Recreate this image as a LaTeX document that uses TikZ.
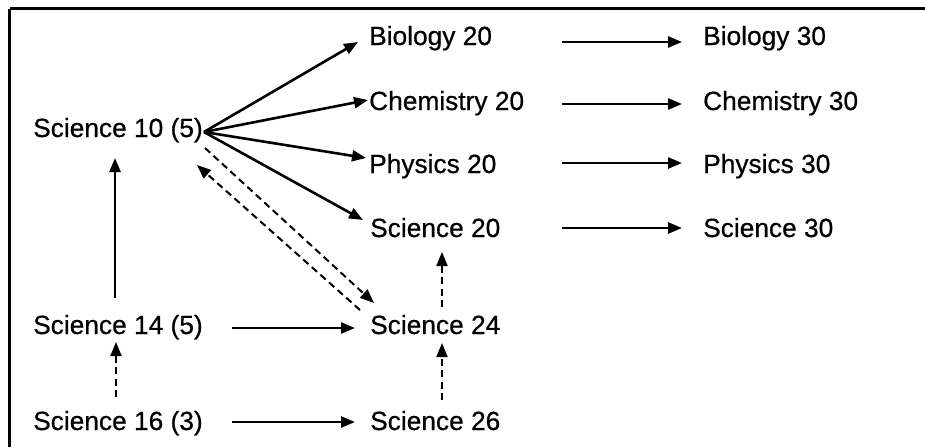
\documentclass[tikz,border=0pt]{standalone}
\usepackage{fontspec}
\setmainfont{Liberation Sans}[BoldFont=Liberation Sans, BoldFeatures={FakeBold=0.6}]
\usetikzlibrary{arrows.meta,calc}
\tikzset{
  lbl/.style={anchor=base west, inner sep=0pt, font=\fontsize{26.3}{30}\selectfont\bfseries},
  arr/.style={line width=2.6pt, -{Triangle[length=14pt,width=11pt]}},
  darr/.style={line width=2pt, dash pattern=on 7pt off 4.5pt, -{Triangle[length=14pt,width=11pt]}},
  frame/.style={line width=3pt}
}
\begin{document}
\begin{tikzpicture}[x=1pt,y=-1pt]
\useasboundingbox (0,0) rectangle (925,447);
% frame (top and left edges)
\coordinate (ftr) at (925,8.5);
\coordinate (ftl) at (9.5,8.5);
\coordinate (fbl) at (9.5,447);
\draw[frame] (ftr) -- (ftl);
\draw[line width=2.4pt] (ftl) -- (fbl);

% nodes
\node[lbl] (s10) at (33,137) {Science 10 (5)};
\node[lbl] (b20) at (369,45) {Biology 20};
\node[lbl] (c20) at (369,110) {Chemistry 20};
\node[lbl] (p20) at (369,173) {Physics 20};
\node[lbl] (s20) at (370,237) {Science 20};
\node[lbl] (b30) at (703,45) {Biology 30};
\node[lbl] (c30) at (703,110) {Chemistry 30};
\node[lbl] (p30) at (703,173) {Physics 30};
\node[lbl] (s30) at (703,237) {Science 30};
\node[lbl] (s14) at (33,334) {Science 14 (5)};
\node[lbl] (s24) at (370,334) {Science 24};
\node[lbl] (s16) at (33,430) {Science 16 (3)};
\node[lbl] (s26) at (370,430) {Science 26};

% 20 -> 30
\draw[arr] ($(b20.base west)+(193,-3)$) -- ($(b30.base west)+(-21,-3)$);
\draw[arr] ($(c20.base west)+(193,-6)$) -- ($(c30.base west)+(-21,-6)$);
\draw[arr] ($(p20.base west)+(193,-10)$) -- ($(p30.base west)+(-21,-10)$);
\draw[arr] ($(s20.base west)+(192,-9)$) -- ($(s30.base west)+(-21,-9)$);

% fan from Science 10
\coordinate (fan) at ($(s10.base east)+(1,-5)$);
\draw[arr] (fan) -- ($(b20.base west)+(-11,-3)$);
\draw[arr] (fan) -- ($(c20.base west)+(-1,-10)$);
\draw[arr] (fan) -- ($(p20.base west)+(-3,-15)$);
\draw[arr] (fan) -- ($(s20.base west)+(-7,-17)$);

% dashed pair between Science 10 and Science 24
\draw[darr] ($(s10.base east)+(2,11)$) -- ($(s24.base west)+(4,-31)$);
\draw[darr] ($(s24.base west)+(-10,-24)$) -- ($(s10.base east)+(-6,28)$);

% verticals
\draw[arr] ($(s14.base west)+(82,-36)$) -- ($(s10.base west)+(82,21)$);
\draw[darr] ($(s16.base west)+(83,-33)$) -- ($(s14.base west)+(83,8)$);
\draw[darr] ($(s26.base west)+(72,-30)$) -- ($(s24.base west)+(72,9)$);
\draw[darr] ($(s24.base west)+(72,-27)$) -- ($(s20.base west)+(72,15)$);

% horizontals bottom
\draw[arr] ($(s14.base west)+(199,-6)$) -- ($(s24.base west)+(-15,-6)$);
\draw[arr] ($(s16.base west)+(199,-8)$) -- ($(s26.base west)+(-15,-8)$);
\end{tikzpicture}
\end{document}
